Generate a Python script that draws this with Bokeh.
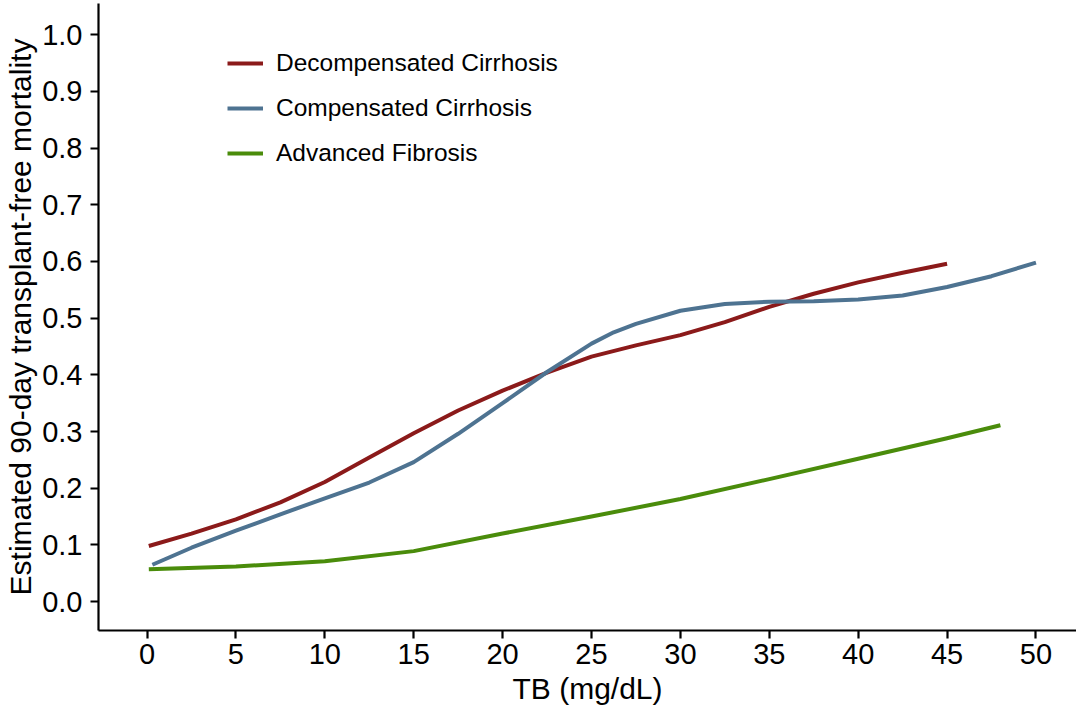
from bokeh.plotting import figure
from bokeh.models import Range1d, FixedTicker, NumeralTickFormatter, Legend, LegendItem
from bokeh.embed import file_html
from bokeh.resources import INLINE

# ---- data ----
decomp_x = [0.1, 2.5, 5, 7.5, 10, 12.5, 15, 17.5, 20, 22.5, 25, 27.5, 30, 32.5, 35, 37.5, 40, 42.5, 45]
decomp_y = [0.098, 0.120, 0.145, 0.175, 0.211, 0.254, 0.297, 0.337, 0.372, 0.404, 0.432, 0.452,
            0.470, 0.493, 0.520, 0.543, 0.563, 0.580, 0.596]

comp_x = [0.3, 2.5, 5, 7.5, 10, 12.5, 15, 17.5, 20, 22.5, 25, 26.25, 27.5, 30, 32.5, 35, 37.5, 40,
          42.5, 45, 47.5, 50]
comp_y = [0.065, 0.095, 0.125, 0.154, 0.182, 0.210, 0.246, 0.296, 0.350, 0.405, 0.455, 0.475, 0.490,
          0.513, 0.525, 0.529, 0.530, 0.533, 0.540, 0.555, 0.574, 0.598]

fib_x = [0.1, 5, 10, 15, 20, 25, 30, 35, 40, 45, 48]
fib_y = [0.057, 0.062, 0.071, 0.089, 0.120, 0.150, 0.181, 0.216, 0.252, 0.288, 0.311]

series_names = ["Decompensated Cirrhosis", "Compensated Cirrhosis", "Advanced Fibrosis"]
series_colors = ["#8B1A1A", "#4E7391", "#4A8C0B"]

x_ticks = [0, 5, 10, 15, 20, 25, 30, 35, 40, 45, 50]
y_ticks = [0.0, 0.1, 0.2, 0.3, 0.4, 0.5, 0.6, 0.7, 0.8, 0.9, 1.0]

FONT = "Liberation Sans"

p = figure(width=1076, height=709, output_backend="svg", toolbar_location=None,
           x_range=Range1d(-2.73, 52.28), y_range=Range1d(-0.051, 1.055),
           min_border_left=98, min_border_right=0, min_border_top=3, min_border_bottom=79)

p.outline_line_color = None
p.xgrid.grid_line_color = None
p.ygrid.grid_line_color = None
p.background_fill_color = "white"
p.border_fill_color = "white"

for ax in (p.xaxis[0], p.yaxis[0]):
    ax.axis_line_width = 2.2
    ax.axis_line_color = "black"
    ax.major_tick_line_width = 2.2
    ax.major_tick_line_color = "black"
    ax.major_tick_out = 8
    ax.major_tick_in = 0
    ax.minor_tick_line_color = None
    ax.major_label_text_font = FONT
    ax.major_label_text_font_size = "29px"
    ax.major_label_text_color = "black"
    ax.axis_label_text_font = FONT
    ax.axis_label_text_font_size = "30px"
    ax.axis_label_text_font_style = "normal"
    ax.axis_label_text_color = "black"

p.xaxis.ticker = FixedTicker(ticks=x_ticks)
p.yaxis.ticker = FixedTicker(ticks=y_ticks)
p.yaxis.formatter = NumeralTickFormatter(format="0.0")
p.xaxis.formatter = NumeralTickFormatter(format="0")
p.xaxis.axis_label = "TB (mg/dL)"
p.yaxis.axis_label = "Estimated 90-day transplant-free mortality"
p.xaxis.major_label_standoff = 5
p.yaxis.major_label_standoff = 8
p.xaxis.axis_label_standoff = 5
p.yaxis.axis_label_standoff = 2

data = [(decomp_x, decomp_y), (comp_x, comp_y), (fib_x, fib_y)]
items = []
for (xs, ys), name, col in zip(data, series_names, series_colors):
    r = p.line(xs, ys, line_color=col, line_width=4, line_cap="butt", line_join="round")
    items.append(LegendItem(label=name, renderers=[r]))

legend = Legend(items=items, location=(129, 463), orientation="vertical",
                glyph_width=36, glyph_height=20, label_height=20, label_standoff=13,
                spacing=17, padding=0, margin=0,
                label_text_font=FONT, label_text_font_size="24.5px", label_text_color="black",
                border_line_alpha=0, background_fill_alpha=0)
p.add_layout(legend, "center")

open("out.html", "w").write(file_html(p, INLINE))
